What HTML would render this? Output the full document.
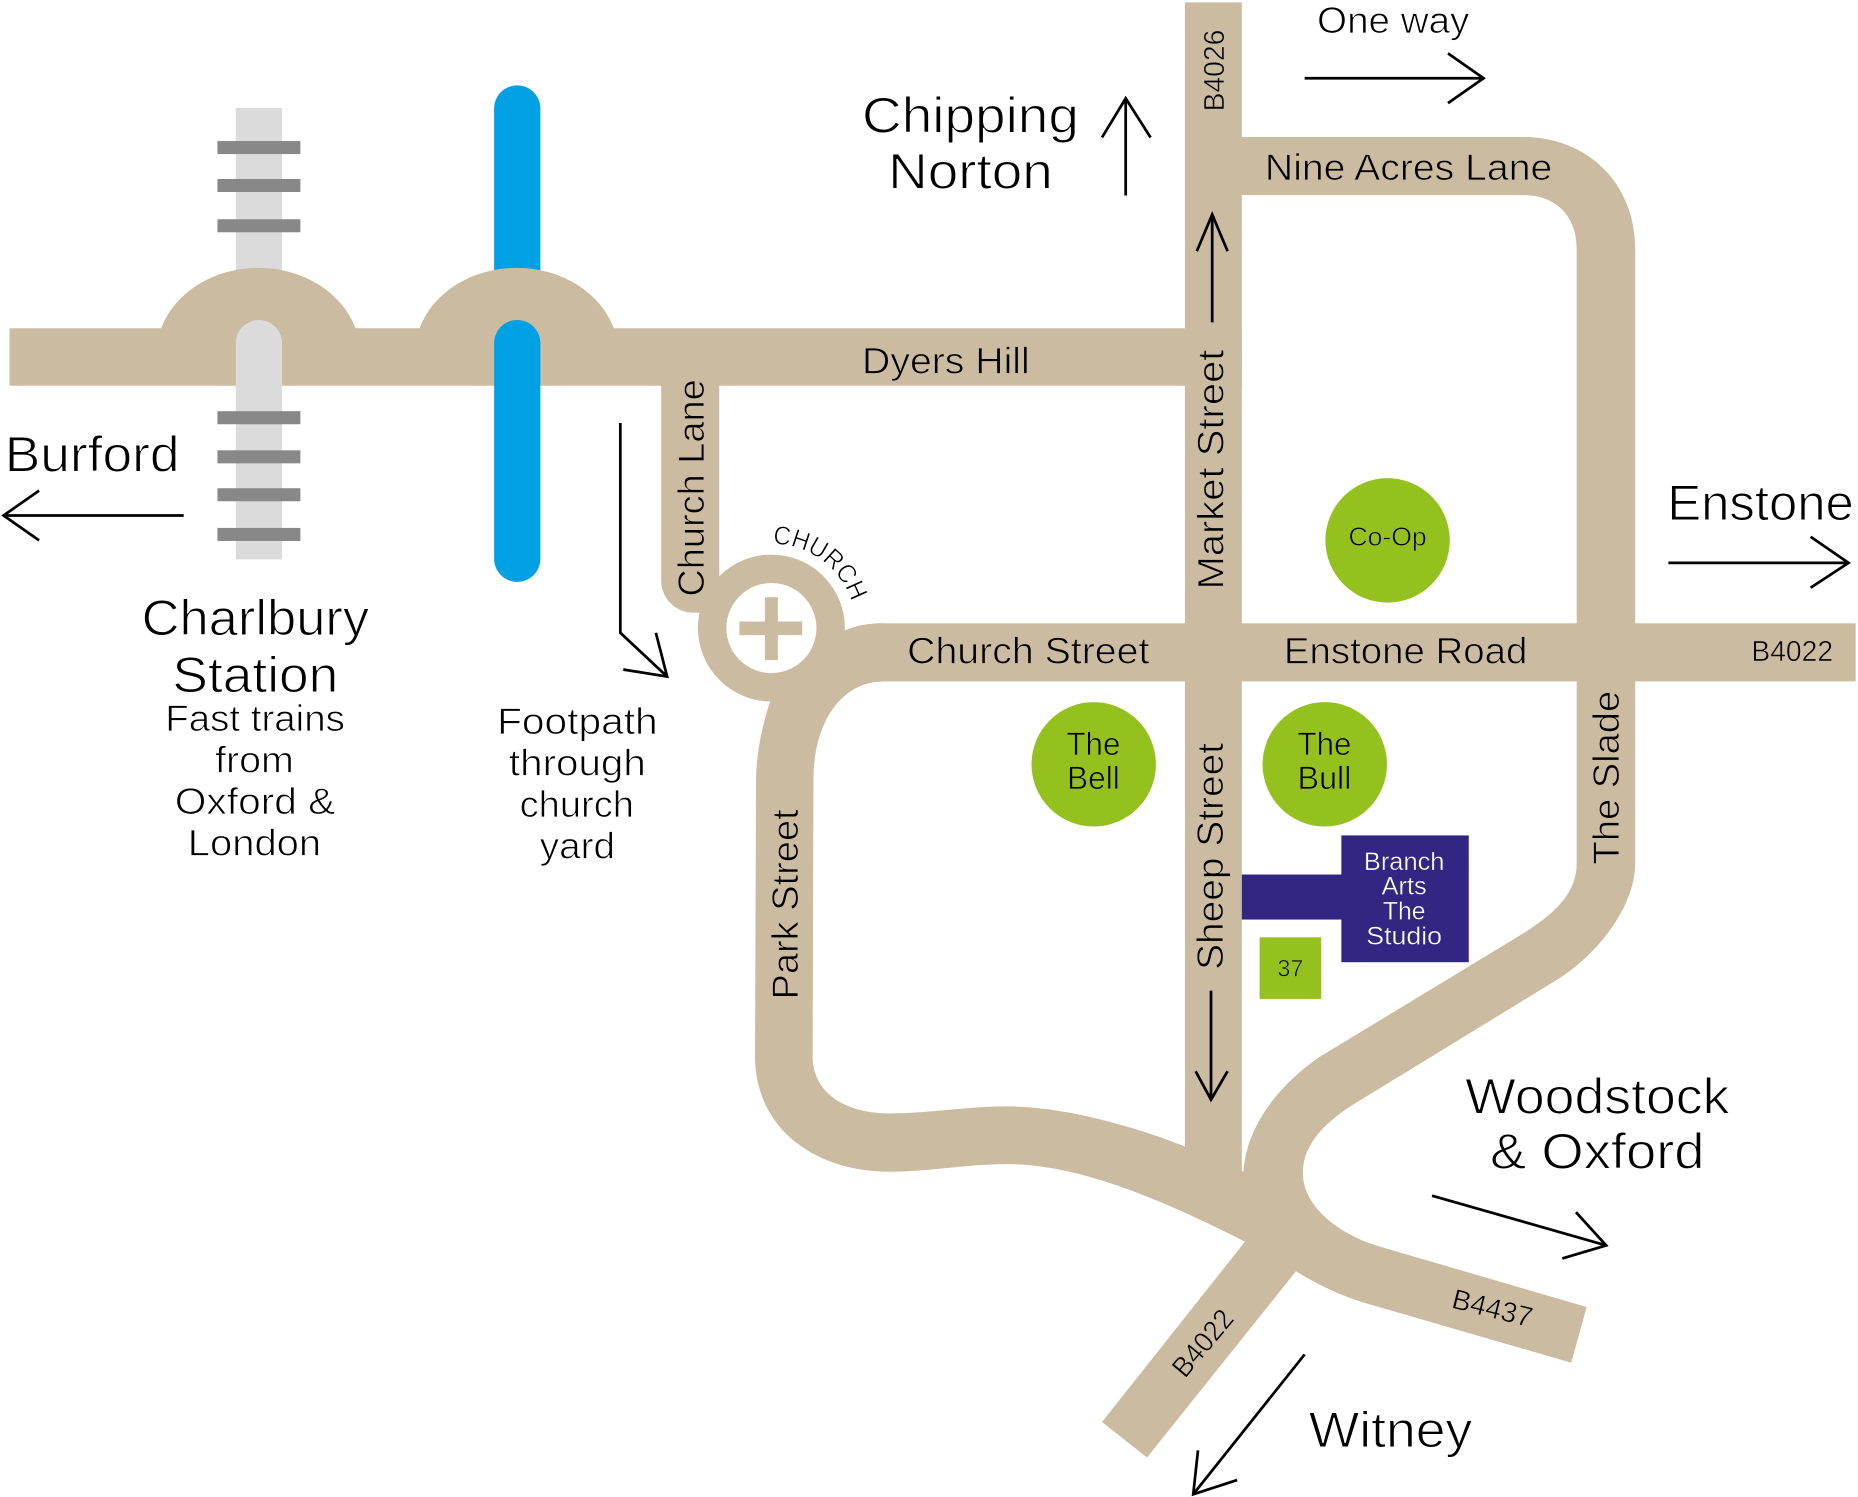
<!DOCTYPE html>
<html>
<head>
<meta charset="utf-8">
<style>
html,body{margin:0;padding:0;background:#fff}
svg{display:block}
text{font-family:"Liberation Sans",sans-serif;fill:#000}
.a{fill:none;stroke:#000;stroke-width:2.3}
.w{fill:#fff}
</style>
</head>
<body>
<svg width="1858" height="1497" viewBox="0 0 1568 1263.3" xmlns="http://www.w3.org/2000/svg">
<rect width="1568" height="1264" fill="#fff"/>
<!-- rail top and river top -->
<rect x="199" y="91" width="39" height="150" fill="#dbdbdb"/>
<rect x="183.5" y="119" width="70" height="11" fill="#888"/>
<rect x="183.5" y="151" width="70" height="11" fill="#888"/>
<rect x="183.5" y="185" width="70" height="11" fill="#888"/>
<path d="M417 240V91.500a19.500 19.500 0 0 1 39 0V240Z" fill="#00a1e4"/>
<!-- roads -->
<g fill="#cbbba0">
<rect x="8" y="277" width="1040" height="48.500"/>
<path d="M136 277A86 73 0 0 1 300 277V290H136Z"/>
<path d="M354 277A86 73 0 0 1 518 277V290H354Z"/>
<path d="M558 320V490a27 27 0 0 0 27 27h22V320Z"/>
<rect x="1000" y="2" width="48" height="1008"/>
<rect x="740" y="526" width="826" height="49"/>
<!-- Nine Acres / The Slade / B4437 / B4022 -->
<path d="M1040 115.600H1285.500C1340 115.600 1380 155 1380 210V728.600C1380 762 1352 803 1313.700 827L1139 934C1115 950 1099.300 968 1099.500 990C1099.500 1018 1130 1042 1164.600 1052L1339 1103L1326 1150L1153.400 1100C1130 1093 1110 1083 1093.700 1072.800L968 1230L930 1200L1050.600 1047.900L1040 1000L1049.200 991C1051 950 1080 915 1114 891.700L1285.500 787.700C1310 772 1330.600 755 1330.600 728.600V210C1330.600 182 1313 164.600 1285.500 164.600H1040Z"/>
<!-- Church St curve / Park St -->
<path d="M745 526C733 526 722 528 713 532L650 560V592C642 615 638 640 638 660L637.200 891.700C637.200 950 685 988.800 751 988.800C785 988.800 815 982.400 849.600 982.400C910 982.400 980 1012 1052 1048.500L1075 1000L998.600 967C950 948 895 933.700 849.600 933.700C815 933.700 785 939.600 751 939.600C710 939.600 685.800 920 685.800 891.700L686.500 658C686.500 610 710 575.200 745 575.200Z"/>
</g>
<circle cx="651" cy="530" r="50" fill="#fff" stroke="#cbbba0" stroke-width="24"/>
<rect x="645.500" y="504" width="11" height="53" fill="#cbbba0"/>
<rect x="624" y="524.500" width="53" height="11.500" fill="#cbbba0"/>
<!-- rail and river lower -->
<path d="M199 472V289.500a19.500 19.500 0 0 1 39 0V472Z" fill="#dbdbdb"/>
<rect x="183.500" y="347" width="70" height="11" fill="#888"/>
<rect x="183.500" y="380" width="70" height="11" fill="#888"/>
<rect x="183.500" y="412" width="70" height="11" fill="#888"/>
<rect x="183.500" y="445.500" width="70" height="11" fill="#888"/>
<rect x="417" y="270" width="39" height="221" rx="19.500" fill="#00a1e4"/>
<!-- places -->
<circle cx="1171" cy="456" r="52.500" fill="#95c11f"/>
<circle cx="923" cy="645" r="52.500" fill="#95c11f"/>
<circle cx="1118" cy="645" r="52.500" fill="#95c11f"/>
<rect x="1132" y="705" width="107.500" height="107" fill="#312783"/>
<rect x="1048" y="738" width="85" height="38" fill="#312783"/>
<rect x="1063" y="791" width="52" height="52" fill="#95c11f"/>
<!-- arrows -->
<path class="a" d="M155 435H3M33 414L3 435L33 456"/>
<path class="a" d="M1101 66H1252M1222 45L1252 66L1222 87"/>
<path class="a" d="M950 165V83M930 116L950 83L971 116"/>
<path class="a" d="M1023 272V181M1010 212L1023 181L1036 212"/>
<path class="a" d="M1022 836V928M1009 904L1022 928L1036 904"/>
<path class="a" d="M1408 475H1560M1528 453L1560 475L1528 496"/>
<path class="a" d="M1208.500 1009L1355.500 1051M1330 1023L1355.500 1051L1318.500 1062"/>
<path class="a" d="M1101 1143L1007 1261M1011 1224L1007 1261L1044 1249"/>
<path class="a" d="M523.500 357V534L563 571M553.500 534L563 571L526 565"/>
<!-- labels on road -->
<g font-size="31" stroke="#cbbba0" stroke-width=".7">
<text x="1067.500" y="152" textLength="242.500" lengthAdjust="spacingAndGlyphs">Nine Acres Lane</text>
<text x="727.500" y="315" textLength="141.500" lengthAdjust="spacingAndGlyphs">Dyers Hill</text>
<text x="765.500" y="560" textLength="204.500" lengthAdjust="spacingAndGlyphs">Church Street</text>
<text x="1083.500" y="560" textLength="205.500" lengthAdjust="spacingAndGlyphs">Enstone Road</text>
<text transform="translate(1032.500,497.500) rotate(-90)" textLength="202.500" lengthAdjust="spacingAndGlyphs">Market Street</text>
<text transform="translate(594,503.500) rotate(-90)" textLength="183.500" lengthAdjust="spacingAndGlyphs">Church Lane</text>
<text transform="translate(1032,818.500) rotate(-90)" textLength="191.500" lengthAdjust="spacingAndGlyphs">Sheep Street</text>
<text transform="translate(1366.500,729.500) rotate(-90)" textLength="146.500" lengthAdjust="spacingAndGlyphs">The Slade</text>
<text transform="translate(673.500,843.500) rotate(-90)" textLength="160.500" lengthAdjust="spacingAndGlyphs">Park Street</text>
</g>
<g font-size="24" stroke="#cbbba0" stroke-width=".5">
<text transform="translate(1033,94) rotate(-90)" textLength="69" lengthAdjust="spacingAndGlyphs">B4026</text>
<text x="1478" y="558" textLength="69" lengthAdjust="spacingAndGlyphs">B4022</text>
<text transform="translate(1000,1164) rotate(-50)" textLength="66" lengthAdjust="spacingAndGlyphs">B4022</text>
<text transform="translate(1224,1103.500) rotate(14)" textLength="69" lengthAdjust="spacingAndGlyphs">B4437</text>
</g>
<!-- labels on white -->
<g font-size="31" stroke="#fff" stroke-width=".7">
<text x="1111.500" y="28" textLength="128.500" lengthAdjust="spacingAndGlyphs">One way</text>
<text x="139.500" y="617" textLength="151.500" lengthAdjust="spacingAndGlyphs">Fast trains</text>
<text x="181.500" y="652" textLength="66.500" lengthAdjust="spacingAndGlyphs">from</text>
<text x="147.500" y="687" textLength="135.500" lengthAdjust="spacingAndGlyphs">Oxford &amp;</text>
<text x="158.500" y="722" textLength="112.500" lengthAdjust="spacingAndGlyphs">London</text>
<text x="419.500" y="619.500" textLength="135.500" lengthAdjust="spacingAndGlyphs">Footpath</text>
<text x="429.500" y="654.500" textLength="115.500" lengthAdjust="spacingAndGlyphs">through</text>
<text x="438.500" y="689.500" textLength="96.500" lengthAdjust="spacingAndGlyphs">church</text>
<text x="455.500" y="724.500" textLength="63.500" lengthAdjust="spacingAndGlyphs">yard</text>
</g>
<g font-size="42" stroke="#fff" stroke-width=".9">
<text x="727.500" y="112" textLength="183" lengthAdjust="spacingAndGlyphs">Chipping</text>
<text x="749.500" y="159" textLength="139" lengthAdjust="spacingAndGlyphs">Norton</text>
<text x="4" y="398" textLength="147.500" lengthAdjust="spacingAndGlyphs">Burford</text>
<text x="119.500" y="536" textLength="192" lengthAdjust="spacingAndGlyphs">Charlbury</text>
<text x="145.500" y="584" textLength="140" lengthAdjust="spacingAndGlyphs">Station</text>
<text x="1407" y="439" textLength="157.500" lengthAdjust="spacingAndGlyphs">Enstone</text>
<text x="1236.500" y="939.500" textLength="223" lengthAdjust="spacingAndGlyphs">Woodstock</text>
<text x="1257.500" y="986" textLength="181" lengthAdjust="spacingAndGlyphs">&amp; Oxford</text>
<text x="1104.500" y="1221" textLength="138" lengthAdjust="spacingAndGlyphs">Witney</text>
</g>
<g font-size="27" stroke="#95c11f" stroke-width=".6">
<text x="1138" y="460.500" font-size="22" textLength="66" lengthAdjust="spacingAndGlyphs">Co-Op</text>
<text x="900" y="637" textLength="45.500" lengthAdjust="spacingAndGlyphs">The</text>
<text x="900.500" y="666" textLength="44.500" lengthAdjust="spacingAndGlyphs">Bell</text>
<text x="1095" y="637" textLength="45.500" lengthAdjust="spacingAndGlyphs">The</text>
<text x="1095" y="666" textLength="45.500" lengthAdjust="spacingAndGlyphs">Bull</text>
<text x="1078" y="824" font-size="20" textLength="22" lengthAdjust="spacingAndGlyphs">37</text>
</g>
<g font-size="21" stroke="#312783" stroke-width=".3">
<text class="w" x="1151" y="734" textLength="68" lengthAdjust="spacingAndGlyphs">Branch</text>
<text class="w" x="1166" y="755" textLength="38" lengthAdjust="spacingAndGlyphs">Arts</text>
<text class="w" x="1167" y="776" textLength="36" lengthAdjust="spacingAndGlyphs">The</text>
<text class="w" x="1153" y="797" textLength="64" lengthAdjust="spacingAndGlyphs">Studio</text>
</g>
<path id="ch" d="M652 459A71 71 0 0 1 718 506" fill="none"/>
<text font-size="22" stroke="#fff" stroke-width=".5"><textPath href="#ch" textLength="88" lengthAdjust="spacingAndGlyphs">CHURCH</textPath></text>
</svg>
</body>
</html>
